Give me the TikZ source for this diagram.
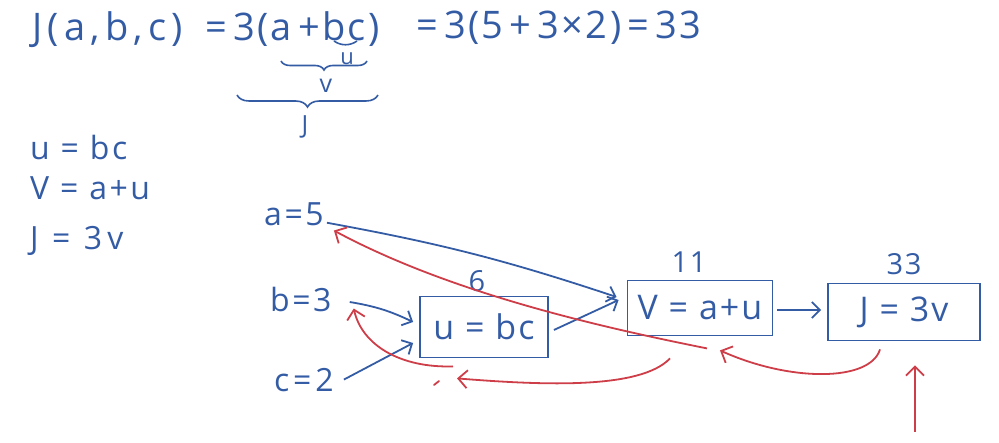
\documentclass[tikz,border=0pt]{standalone}
\usepackage{fontspec}
\setmainfont{Open Sans}
\usetikzlibrary{arrows.meta,decorations.pathreplacing,calc}
\definecolor{hblue}{RGB}{52,92,165}
\definecolor{hred}{RGB}{205,62,72}
\tikzset{
  txt/.style={text=hblue,inner sep=0pt,font=\fontsize{32}{38}\selectfont\addfontfeatures{LetterSpace=8}},
  big/.style={text=hblue,inner sep=0pt,font=\fontsize{38}{44}\selectfont\addfontfeatures{LetterSpace=6}},
  small/.style={text=hblue,inner sep=0pt,font=\fontsize{25}{30}\selectfont},
  num/.style={text=hblue,inner sep=0pt,font=\fontsize{29}{34}\selectfont\addfontfeatures{LetterSpace=6}},
  box/.style={draw=hblue,line width=1.8pt,text=hblue,inner sep=0pt,font=\fontsize{34}{40}\selectfont\addfontfeatures{LetterSpace=6}},
  fwd/.style={draw=hblue,line width=1.8pt,-{Straight Barb[length=8pt,width=16pt,line width=1.8pt]}},
  bwd/.style={draw=hred,line width=1.8pt,-{Straight Barb[length=9pt,width=18pt,line width=1.8pt]}},
  brc/.style={draw=hblue,line width=1.6pt,decorate,decoration={brace,mirror,amplitude=#1}}
}
\begin{document}
\begin{tikzpicture}[x=1pt,y=-1pt]
\useasboundingbox (0,0) rectangle (999,443);
% top formula
\node[big,anchor=base west,font=\fontsize{38}{44}\selectfont\addfontfeatures{LetterSpace=14}] (f1) at (32,41) {J(a,b,c)};
\node[big,anchor=base west] (f2) at (205,41) {=\,3(a\,+bc)};
\node[big,anchor=base west] (f3) at (416,39) {=\,3(5\,+\,3×2)\,=\,33};
% braces
\draw[hblue,line width=1.6pt] (334,41) .. controls (341,46) and (350,46) .. (357,41);
\node[small,anchor=base,font=\fontsize{22}{26}\selectfont] (lu) at (347,65) {u};
\draw[brc=9pt] (281,61) -- (367,61);
\node[small,anchor=base] (lv) at (326,93) {v};
\draw[brc=12pt] (237,95) -- (378,95);
\node[small,anchor=base] (lj) at (305,134) {J};
% left equations
\node[txt,anchor=base west] (e1) at (30,160) {u = bc};
\node[txt,anchor=base west] (e2) at (30,200) {V = a+u};
\node[txt,anchor=base west,font=\fontsize{32}{38}\selectfont\addfontfeatures{LetterSpace=16}] (e3) at (30,250) {J = 3v};
% inputs
\node[txt,anchor=base west] (a) at (264,226) {a=5};
\node[txt,anchor=base west] (b) at (270,312) {b=3};
\node[txt,anchor=base west,font=\fontsize{32}{38}\selectfont\addfontfeatures{LetterSpace=12}] (c) at (274,392) {c=2};
% boxes
\node[box,minimum width=128pt,minimum height=61pt] (u) at (484,327) {u = bc};
\node[box,minimum width=145pt,minimum height=55pt] (v) at (700,308) {V = a+u};
\node[box,minimum width=152pt,minimum height=57pt] (j) at (904,312) {J = 3v};
\node[num,anchor=base] (n6) at (477,292) {6};
\node[num,anchor=base] (n11) at (689,273) {11};
\node[num,anchor=base] (n33) at (904,275) {33};
% forward arrows
\draw[fwd] ($(a.east)+(3,8)$) to[bend left=4] ($(v.west)+(-10,-11)$);
\draw[fwd] ($(b.east)+(18,2)$) to[bend left=8] ($(u.west)+(-6,-5)$);
\draw[fwd] ($(c.east)+(10,-1)$) -- ($(u.west)+(-6,16)$);
\draw[fwd] ($(u.east)+(5,3)$) -- ($(v.west)+(-8,-8)$);
\draw[fwd] ($(v.east)+(4,2)$) -- ($(j.west)+(-6,-2)$);
% backward arrows
\coordinate (jin) at (915,432);
\draw[bwd] (jin) -- ($(j.south)+(11,24)$);
\draw[bwd] ($(j.south)+(-24,8)$) .. controls (870,382) and (790,382) .. ($(v.south)+(20,14)$);
\draw[bwd] ($(v.south)+(7,12)$) .. controls (600,327) and (450,293) .. ($(a.south east)+(10,4)$);
\draw[bwd] ($(v.south)+(-30,22)$) .. controls (640,390) and (540,385) .. ($(u.south)+(-27,20)$);
\draw[bwd] ($(u.south)+(-31,8)$) .. controls (400,368) and (362,345) .. ($(b.south east)+(22,-4)$);
\draw[hred,line width=1.8pt,line cap=round] (434,385) -- (439,381);
\end{tikzpicture}
\end{document}
